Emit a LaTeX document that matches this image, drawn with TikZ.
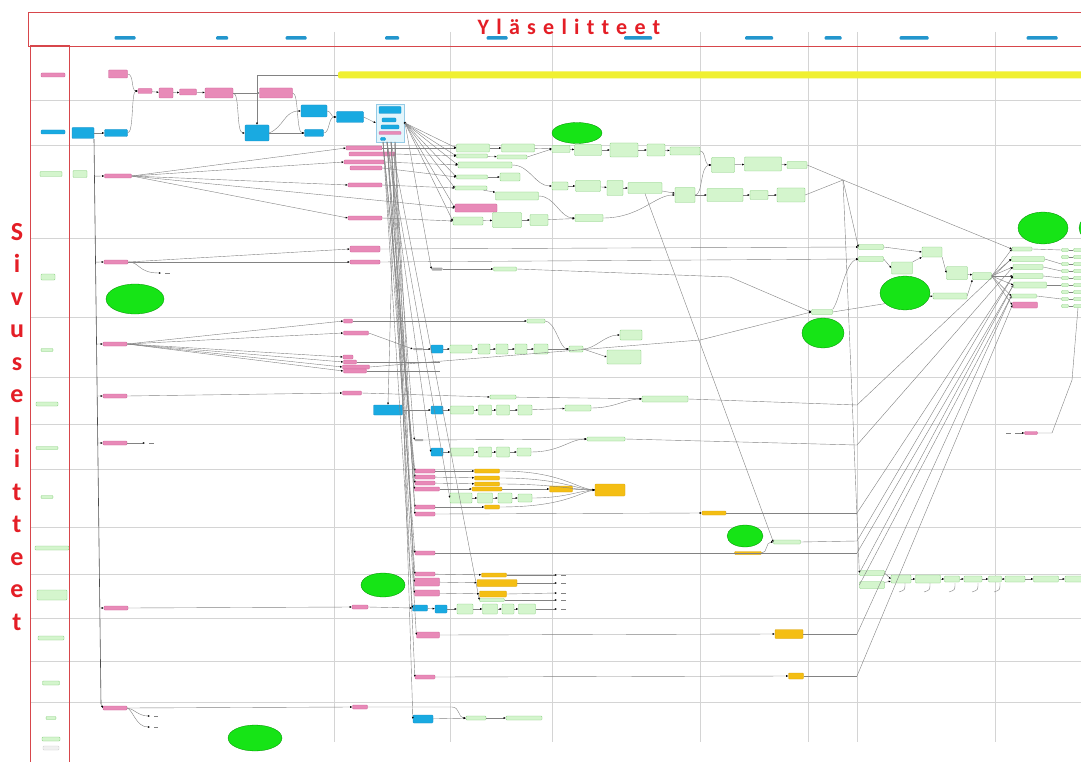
\documentclass[tikz,border=0pt]{standalone}
\usepackage{fontspec}
\newfontfamily\headfont{Carlito}[Ligatures={NoCommon,NoRequired,NoContextual}]
\usetikzlibrary{shapes.geometric,arrows.meta,calc}

\definecolor{pinkfill}{RGB}{232,138,184}
\definecolor{pinkline}{RGB}{205,95,150}
\definecolor{bluefill}{RGB}{25,170,225}
\definecolor{blueline}{RGB}{20,140,200}
\definecolor{greenfill}{RGB}{212,245,205}
\definecolor{greenline}{RGB}{130,205,120}
\definecolor{orangefill}{RGB}{244,190,20}
\definecolor{orangeline}{RGB}{215,160,10}
\definecolor{ovalgreen}{RGB}{22,228,22}
\definecolor{baryellow}{RGB}{240,240,50}
\definecolor{hdrblue}{RGB}{35,150,205}
\definecolor{lanegray}{RGB}{212,212,212}
\definecolor{wiregray}{RGB}{130,130,130}
\definecolor{framered}{RGB}{215,70,75}
\definecolor{titlered}{RGB}{228,30,38}

\tikzset{
  box/.style={draw, rounded corners=0.8pt, inner sep=0pt, line width=0.3pt},
  pk/.style 2 args={box, fill=pinkfill, draw=pinkline, minimum width=#1pt, minimum height=#2pt},
  bl/.style 2 args={box, fill=bluefill, draw=blueline, minimum width=#1pt, minimum height=#2pt},
  gr/.style 2 args={box, fill=greenfill, draw=greenline, minimum width=#1pt, minimum height=#2pt},
  og/.style 2 args={box, fill=orangefill, draw=orangeline, minimum width=#1pt, minimum height=#2pt},
  dk/.style 2 args={box, fill=gray!65, draw=none, minimum width=#1pt, minimum height=#2pt},
  oval/.style 2 args={ellipse, fill=ovalgreen, draw=green!55!black, line width=0.3pt, inner sep=0pt, minimum width=#1pt, minimum height=#2pt},
  hdr/.style={fill=hdrblue, rounded corners=1pt, inner sep=0pt, minimum height=3.5pt, minimum width=#1pt},
  lane/.style={draw=lanegray, line width=0.7pt},
  link/.style={draw=wiregray, line width=0.4pt},
  wire/.style={link, -{Latex[length=2.2pt,width=2pt,black]}},
  frame/.style={draw=framered, line width=1pt},
}

\begin{document}
\begin{tikzpicture}[x=1pt,y=-1pt]
\useasboundingbox (0,0) rectangle (1081,762);
\fill[white] (0,0) rectangle (1081,762);

% swimlane grid
\foreach \yy in {100,145,238,317,377,424,469,527,574,618,661,702}
  \draw[lane] (30,\yy) -- (1081,\yy);
\foreach \xx in {334,450,552,700,808,857,995}
  \draw[lane] (\xx,32) -- (\xx,742);

% column header bars
\foreach \xx/\ww [count=\i] in {125/21,222/12,296/21,392/14,497/21,638/28,759/28,833/17,914/29,1042/31}
  \node[hdr=\ww] (hd\i) at (\xx,38) {};

% timeline bar
\node[fill=baryellow, inner sep=0pt, minimum height=7pt, minimum width=760pt, rounded corners=2pt] (ybar) at (718,75) {};

% row labels in the side column
\node[pk={24}{4}] (p0) at (53,75) {};
\node[bl={24}{4}] (b0) at (53,132) {};
\foreach \xx/\yy/\ww/\hh [count=\i] in {51/174/22/5,80/174/14/7,48/277/14/6,47/350/12/3,47/404/22/4,47/448/22/3,47/497/12/3,52/548/34/4,52/595/30/10,51/638/26/4,51/683/17/4,51/718/10/3,51/739/18/4}
  \node[gr={\ww}{\hh}] (lab\i) at (\xx,\yy) {};
\node[box, fill=gray!12, draw=gray!40, minimum width=16pt, minimum height=4pt] (lab14) at (51,748) {};

% top chain
\node[pk={19}{8}] (t1) at (118,74) {};
\node[pk={14}{5}] (t2) at (145,91) {};
\node[pk={14}{10}] (t3) at (166,93) {};
\node[pk={17}{6}] (t4) at (188,92) {};
\node[pk={28}{10}] (t5) at (219,93) {};
\node[pk={33}{10}] (t6) at (276,93) {};
\node[bl={22}{11}] (c1) at (83,133) {};
\node[bl={23}{7}] (c2) at (116,133) {};
\node[bl={24}{16}] (c3) at (257,133) {};
\node[bl={26}{12}] (c4) at (314,111) {};
\node[bl={19}{7}] (c5) at (314,133) {};
\node[bl={27}{11}] (c6) at (350,117) {};
\node[draw=blueline!45, fill=bluefill!12, line width=0.3pt, inner sep=0pt, minimum width=28pt, minimum height=38pt] (ct) at (390,123) {};
\node[bl={22}{7}] (ct1) at (390,110) {};
\node[bl={14}{4}] (ct2) at (389,120) {};
\node[bl={18}{4}] (ct3) at (390,127) {};
\node[pk={22}{3}] (ct4) at (390,133) {};
\node[bl={5}{3}] (ct5) at (383,139) {};
\coordinate (hub) at (405,123);
\fill (hub) circle (1.4);

\draw[wire] (t1.east) .. controls (134,74) and (131,91) .. (t2.west);
\draw[wire] (c2.east) .. controls (134,133) and (131,91) .. (t2.west);
\foreach \p/\q in {t2/t3,t3/t4,t4/t5,t5/t6,c1/c2} \draw[wire] (\p) -- (\q);
\draw[wire] (t5.east) .. controls (240,93) and (236,133) .. (c3.west);
\draw[wire] (t6.east) .. controls (299,93) and (296,133) .. (c5.west);
\draw[wire] (ybar.west) -| (c3.north);
\draw[wire] (c3.east) .. controls (284,127) and (284,111) .. (c4.west);
\draw[wire] (c3.east) -- (c5.west);
\draw[wire] (c5.east) .. controls (330,133) and (328,117) .. (c6.west);
\draw[wire] (c4.east) .. controls (331,111) and (331,117) .. (c6.west);
\draw[wire] (c6.east) -- (ct.west);

% left trunk with its branches
\node[pk={27}{4}] (L1) at (118,176) {};
\node[pk={24}{4}] (L2) at (116,262) {};
\node[pk={24}{4}] (L3) at (115,344) {};
\node[pk={24}{4}] (L4) at (115,396) {};
\node[pk={24}{4}] (L5) at (115,443) {};
\node[pk={24}{4}] (L6) at (116,608) {};
\node[pk={24}{4}] (L7) at (115,708) {};
\coordinate (tk0) at (94,139);
\coordinate (tk7) at (101,704);
\draw[link, line width=0.6pt, draw=gray!60!black] (tk0) -- (tk7);
\foreach \n in {L1,L2,L3,L4,L5,L6} \draw[wire] ($(tk0)!(\n.west)!(tk7)$) -- (\n.west);
\draw[wire] (tk7) -- (L7.west);
\draw[wire] (L2.east) .. controls (140,262) and (138,273) .. (161,273);
\draw[link] (165,273) -- (170,273);
\draw[wire] (L5.east) -- (145,443);
\draw[link] (149,443) -- (154,443);
\draw[wire] (L7.east) .. controls (133,708) and (138,716) .. (150,716);
\draw[wire] (L7.east) .. controls (133,710) and (136,727) .. (150,727);
\draw[link] (154,716) -- (158,716);
\draw[link] (154,727) -- (158,727);

% pink column beside the first vertical line
\node[pk={36}{4}] (m1) at (364,148) {};
\node[pk={46}{4}] (m2) at (372,154) {};
\node[pk={40}{4}] (m3) at (364,162) {};
\node[pk={32}{4}] (m4) at (366,168) {};
\node[pk={34}{4}] (m5) at (365,185) {};
\node[pk={34}{4}] (m6) at (365,218) {};
\node[pk={30}{6}] (m7) at (365,249) {};
\node[pk={30}{4}] (m8) at (365,262) {};
\node[pk={9}{4}] (m9) at (348,321) {};
\node[pk={25}{4}] (m10) at (356,333) {};
\node[pk={10}{4}] (m11) at (348,357) {};
\node[pk={13}{4}] (m12) at (350,362) {};
\node[pk={27}{4}] (m13) at (356,367) {};
\node[pk={23}{4}] (m14) at (355,371) {};
\node[pk={19}{4}] (m15) at (352,393) {};
\node[pk={16}{4}] (m16) at (360,607) {};
\node[pk={15}{4}] (m17) at (360,707) {};

\foreach \n in {m1,m3,m5,m6} \draw[wire] (L1.east) -- (\n.west);
\foreach \n in {m7,m8} \draw[wire] (L2.east) -- (\n.west);
\foreach \n in {m9,m10,m11,m12,m13,m14} \draw[wire] (L3.east) -- (\n.west);
\draw[wire] (L4.east) -- (m15.west);
\draw[wire] (L6.east) -- (m16.west);
\draw[wire] (L7.east) -- (m17.west);

% upper green process cluster
\node[gr={33}{8}] (a1) at (473,148) {};
\node[gr={33}{8}] (a2) at (518,148) {};
\node[gr={18}{7}] (a3) at (561,149) {};
\node[gr={27}{11}] (a4) at (588,150) {};
\node[gr={28}{14}] (a5) at (624,150) {};
\node[gr={18}{12}] (a6) at (656,150) {};
\node[gr={30}{8}] (a7) at (685,151) {};
\node[gr={31}{4}] (b1) at (472,156) {};
\node[gr={30}{4}] (b2) at (512,157) {};
\node[gr={54}{6}] (cc1) at (485,165) {};
\node[gr={31}{4}] (d1) at (472,177) {};
\node[gr={20}{8}] (d2) at (510,177) {};
\node[gr={32}{4}] (e1) at (471,188) {};
\node[gr={43}{8}] (e2) at (517,196) {};
\node[gr={16}{8}] (f1) at (560,186) {};
\node[gr={25}{11}] (f2) at (588,186) {};
\node[gr={16}{15}] (f3) at (615,188) {};
\node[gr={34}{11}] (f4) at (645,188) {};
\node[gr={20}{15}] (f5) at (685,195) {};
\node[pk={42}{8}] (g1) at (476,208) {};
\node[gr={30}{8}] (h1) at (468,221) {};
\node[gr={29}{15}] (h2) at (507,220) {};
\node[gr={18}{11}] (h3) at (539,220) {};
\node[gr={28}{7}] (h4) at (589,218) {};
\node[gr={23}{15}] (j1) at (723,165) {};
\node[gr={37}{14}] (j2) at (763,164) {};
\node[gr={20}{7}] (j3) at (797,165) {};
\node[gr={36}{13}] (k1) at (725,195) {};
\node[gr={18}{9}] (k2) at (759,195) {};
\node[gr={28}{14}] (k3) at (791,195) {};
\coordinate (jn) at (843,180);

\foreach \n in {a1,b1,cc1,d1,e1,g1,h1} \draw[wire] (hub) -- (\n.west);
\draw[wire] (m1.east) -- (a1.west);
\draw[wire] (m2.east) -- (b1.west);
\draw[wire] (m3.east) -- (cc1.west);
\draw[wire] (m4.east) -- (d1.west);
\draw[wire] (m5.east) -- (e1.west);
\draw[wire] (m6.east) -- (h1.west);
\draw[wire] (L1.east) -- (g1.west);
\foreach \p/\q in {a1/a2,a2/a3,a3/a4,a4/a5,a5/a6,a6/a7,b1/b2,d1/d2,e1/e2,f1/f2,f2/f3,f3/f4,f4/f5,h1/h2,h2/h3,h3/h4,j1/j2,j2/j3,k1/k2,k2/k3}
  \draw[wire] (\p) -- (\q);
\draw[wire] (b2.east) -- (a3.west);
\draw[wire] (cc1.east) .. controls (530,165) and (535,186) .. (f1.west);
\draw[wire] (e2.east) .. controls (555,196) and (560,218) .. (h4.west);
\draw[wire] (a7.east) .. controls (706,151) and (704,165) .. (j1.west);
\draw[wire] (f5.east) .. controls (703,195) and (700,165) .. (j1.west);
\draw[wire] (f5.east) -- (k1.west);
\draw[wire] (h4.east) .. controls (640,218) and (655,195) .. (f5.west);
\draw[link] (j3.east) -- (jn);
\draw[link] (k3.east) -- (jn);

% right cluster
\node[gr={25}{5}] (n1) at (871,247) {};
\node[gr={25}{5}] (n2) at (871,259) {};
\node[gr={21}{12}] (n3) at (902,268) {};
\node[gr={20}{10}] (n4) at (932,252) {};
\node[gr={21}{13}] (n5) at (957,273) {};
\node[gr={19}{7}] (n6) at (982,276) {};
\node[gr={34}{6}] (n7) at (950,296) {};
\node[gr={20}{4}] (r1) at (1022,249) {};
\node[gr={33}{5}] (r2) at (1028,259) {};
\node[gr={30}{5}] (r3) at (1028,267) {};
\node[gr={30}{5}] (r4) at (1028,276) {};
\node[gr={33}{6}] (r5) at (1030,285) {};
\node[gr={25}{4}] (r6) at (1024,296) {};
\node[pk={25}{6}] (rp) at (1025,305) {};
\foreach \i in {1,...,9} {
  \node[gr={7}{3}] (fa\i) at (1065,243+7*\i) {};
  \node[gr={9}{3}] (fb\i) at (1078,243+7*\i) {};
}
\node[gr={21}{5}] (sx) at (822,312) {};

\draw[wire] (jn) -- (r1.west);
\draw[wire] (jn) -- (n1.west);
\draw[wire] (m7.east) -- (n1.west);
\draw[wire] (m8.east) -- (n2.west);
\draw[wire] (n1.east) -- (n4.west);
\draw[wire] (n2.east) -- (n3.west);
\draw[wire] (n3.north east) -- (n4.south west);
\draw[wire] (n4.south east) -- (n5.west);
\draw[wire] (n5) -- (n6);
\draw[wire] (n7.east) -- (n6.south west);
\foreach \n in {r1,r2,r3,r4,r5,r6,rp} \draw[wire] (n6.east) -- (\n.west);
\foreach \n/\i in {r1/1,r2/3,r3/4,r4/5,r5/6,r6/8} \draw[link] (\n.east) -- (fa\i.west);
\foreach \i in {1,...,9} \draw[link] (fa\i.east) -- (fb\i.west);
\draw[wire] (sx.east) -- (n7.west);
\draw[wire] (sx.north east) .. controls (840,300) and (845,262) .. (n2.west);

% mid rows
\node[dk={11}{3}] (dk1) at (437,269) {};
\node[gr={23}{4}] (gg1) at (505,269) {};
\node[gr={18}{4}] (gg2) at (536,321) {};
\node[dk={10}{2}] (dk2) at (418,349) {};
\node[bl={12}{8}] (bb4) at (437,349) {};
\node[gr={22}{8}] (u1) at (461,349) {};
\node[gr={12}{10}] (u2) at (484,349) {};
\node[gr={12}{10}] (u3) at (502,349) {};
\node[gr={12}{10}] (u4) at (521,349) {};
\node[gr={14}{10}] (u5) at (541,349) {};
\node[gr={14}{6}] (u6) at (576,349) {};
\node[gr={22}{10}] (u7) at (631,335) {};
\node[gr={34}{14}] (u8) at (624,357) {};

\draw[wire] (hub) -- (dk1.west);
\draw[wire] (dk1) -- (gg1);
\draw[wire] (gg1.east) -- (730,277) -- (sx.west);
\draw[wire] (m9.east) -- (gg2.west);
\draw[wire] (gg2.east) .. controls (555,321) and (560,349) .. (u6.west);
\draw[wire] (m10.east) -- (dk2.west);
\foreach \p/\q in {dk2/bb4,bb4/u1,u1/u2,u2/u3,u3/u4,u4/u5,u5/u6} \draw[wire] (\p) -- (\q);
\draw[wire] (u6.east) .. controls (595,349) and (605,335) .. (u7.west);
\draw[wire] (u6.east) -- (u8.west);
\draw[wire] (m13.east) -- (700,340) -- (sx.west);
\draw[link] (m12.east) -- (440,362);
\draw[link] (m14.east) -- (440,371);

\node[gr={26}{4}] (gg3) at (503,397) {};
\node[gr={46}{6}] (gg4) at (665,399) {};
\node[bl={29}{10}] (bb1) at (388,410) {};
\node[bl={12}{8}] (bb2) at (437,410) {};
\node[gr={23}{8}] (ra) at (462,410) {};
\node[gr={13}{10}] (rb) at (485,410) {};
\node[gr={13}{10}] (rc) at (503,410) {};
\node[gr={14}{10}] (rd) at (525,410) {};
\node[gr={26}{6}] (re) at (578,408) {};
\draw[wire] (m15.east) -- (gg3.west);
\draw[wire] (gg3) -- (gg4);
\foreach \p/\q in {bb1/bb2,bb2/ra,ra/rb,rb/rc,rc/rd,rd/re} \draw[wire] (\p) -- (\q);
\draw[wire] (re.east) .. controls (615,408) and (625,399) .. (gg4.west);

\node[dk={9}{2}] (dk3) at (419,440) {};
\node[gr={38}{4}] (gg5) at (606,439) {};
\node[bl={12}{8}] (bb3) at (437,452) {};
\node[gr={23}{8}] (sa) at (462,452) {};
\node[gr={13}{10}] (sb) at (485,452) {};
\node[gr={13}{10}] (sc) at (503,452) {};
\node[gr={14}{8}] (sd) at (524,452) {};
\draw[wire] (dk3) -- (gg5);
\foreach \p/\q in {bb3/sa,sa/sb,sb/sc,sc/sd} \draw[wire] (\p) -- (\q);
\draw[wire] (sd.east) .. controls (560,452) and (570,439) .. (gg5.west);

% lower pink / orange block
\node[pk={20}{4}] (q1) at (425,471) {};
\node[pk={20}{4}] (q2) at (425,477) {};
\node[pk={20}{4}] (q3) at (425,483) {};
\node[pk={25}{4}] (q4) at (427,489) {};
\node[pk={20}{4}] (q5) at (425,507) {};
\node[pk={20}{4}] (q6) at (425,514) {};
\node[pk={20}{4}] (q7) at (425,553) {};
\node[pk={20}{4}] (q8) at (425,574) {};
\node[pk={25}{8}] (q9) at (427,582) {};
\node[pk={25}{6}] (q10) at (427,593) {};
\node[bl={15}{6}] (bb5) at (420,608) {};
\node[bl={12}{8}] (bb6) at (441,609) {};
\node[pk={23}{6}] (q11) at (428,635) {};
\node[pk={20}{4}] (q12) at (425,677) {};
\node[bl={20}{8}] (bb7) at (423,719) {};

\node[og={25}{4}] (o1) at (487,471) {};
\node[og={25}{4}] (o2) at (487,478) {};
\node[og={25}{4}] (o3) at (487,484) {};
\node[og={30}{4}] (o4) at (487,489) {};
\node[og={15}{4}] (o5) at (492,507) {};
\node[og={23}{6}] (o6) at (561,489) {};
\node[og={30}{12}] (o7) at (610,490) {};
\node[og={24}{4}] (o8) at (714,513) {};
\node[og={27}{3}] (o9) at (748,553) {};
\node[og={28}{9}] (o10) at (789,634) {};
\node[og={15}{6}] (o11) at (796,676) {};
\node[og={25}{4}] (o12) at (494,575) {};
\node[og={40}{7}] (o13) at (497,583) {};
\node[og={27}{6}] (o14) at (493,594) {};

\node[gr={22}{10}] (w1) at (461,498) {};
\node[gr={15}{10}] (w2) at (485,498) {};
\node[gr={14}{10}] (w3) at (505,498) {};
\node[gr={14}{8}] (w4) at (525,498) {};
\node[gr={25}{3}] (gg6) at (492,600) {};
\node[gr={16}{10}] (x1) at (465,609) {};
\node[gr={15}{10}] (x2) at (490,609) {};
\node[gr={12}{10}] (x3) at (508,609) {};
\node[gr={17}{10}] (x4) at (527,609) {};
\node[gr={20}{4}] (gg7) at (476,718) {};
\node[gr={36}{4}] (gg8) at (524,718) {};
\node[gr={27}{4}] (gg9) at (787,542) {};

% bundle from the grouped box down to the lower rows
\coordinate (cb1) at (383,142);
\coordinate (cb2) at (387,142);
\coordinate (cb3) at (391,142);
\coordinate (cb4) at (395,142);
\foreach \c/\n in {cb1/q1,cb1/q2,cb2/q3,cb2/q4,cb3/q5,cb4/q6,cb1/q7,cb2/q8,cb3/q9,cb4/q10,cb1/bb5,cb2/q11,cb3/q12,cb4/bb7,cb2/w1,cb3/gg6,cb3/dk3,cb2/bb3}
  \draw[wire] (\c) -- (\n.west);
\draw[wire] (cb4) -- (bb1.north);

\foreach \p/\q in {q1/o1,q2/o2,q3/o3,q4/o4,q5/o5,o4/o6,w1/w2,w2/w3,w3/w4,q8/o12,q9/o13,q10/o14,bb5/bb6,bb6/x1,x1/x2,x2/x3,x3/x4,bb7/gg7,gg7/gg8}
  \draw[wire] (\p) -- (\q);
\draw[wire] (m16.east) -- (bb5.west);
\draw[wire] (o1.east) .. controls (560,471) and (575,488) .. (o7.west);
\draw[wire] (o2.east) .. controls (560,478) and (575,489) .. (o7.west);
\draw[wire] (o3.east) .. controls (555,484) and (575,490) .. (o7.west);
\draw[wire] (o6) -- (o7);
\draw[wire] (w4.east) .. controls (565,498) and (578,491) .. (o7.west);
\draw[wire] (o5.east) .. controls (565,507) and (580,492) .. (o7.west);
\draw[wire] (q6.east) -- (o8.west);
\draw[wire] (q11.east) -- (o10.west);
\draw[wire] (q12.east) -- (o11.west);
\draw[wire] (m17.east) -- (452,707) .. controls (460,707) and (458,718) .. (gg7.west);
\foreach \n/\yy in {o12/575,o13/583,o14/593,gg6/600,x4/609} {
  \draw[wire] (\n.east) -- (557,\yy);
  \draw[link] (561,\yy) -- (566,\yy);
}
\draw[wire] (o9.east) .. controls (768,553) and (765,542) .. (gg9.west);
\draw[wire] (f4.south) -- (gg9.west);

% lower right chain
\node[gr={25}{5}] (y1) at (872,573) {};
\node[gr={25}{7}] (y2) at (872,585) {};
\node[gr={20}{8}] (z1) at (901,579) {};
\node[gr={25}{8}] (z2) at (928,579) {};
\node[gr={15}{6}] (z3) at (952,579) {};
\node[gr={18}{6}] (z4) at (973,579) {};
\node[gr={13}{6}] (z5) at (995,579) {};
\node[gr={20}{6}] (z6) at (1015,579) {};
\node[gr={25}{6}] (z7) at (1046,579) {};
\node[gr={20}{6}] (z8) at (1075,579) {};
\draw[wire] (jn) -- (y1.west);
\draw[wire] (y1.east) -- (z1.west);
\foreach \p/\q in {y2/z1,z1/z2,z2/z3,z3/z4,z4/z5,z5/z6,z6/z7,z7/z8} \draw[wire] (\p) -- (\q);
\foreach \xx in {905,930,955,978,1000} \draw[link] (\xx,583) .. controls (\xx,590) .. (\xx-6,592);

% long feeds into the right list
\coordinate (v1) at (857,405);
\coordinate (v2) at (857,445);
\coordinate (v3) at (857,513);
\coordinate (v4) at (857,541);
\coordinate (v7) at (857,553);
\coordinate (v5) at (857,634);
\coordinate (v6) at (857,676);
\draw[link] (gg4.east) -- (v1);
\draw[link] (gg5.east) -- (v2);
\draw[link] (o8.east) -- (v3);
\draw[link] (gg9.east) -- (v4);
\draw[link] (q7.east) -- (v7);
\draw[link] (o10.east) -- (v5);
\draw[link] (o11.east) -- (v6);
\foreach \v/\n in {v1/r2,v2/r3,v3/r4,v4/r4,v7/r5,v5/r6,v6/rp} \draw[wire] (\v) -- (\n.west);
\draw[link] (y1.west) -- (r5.west);
\draw[link] (y2.west) -- (r6.west);

% isolated item on the right
\node[pk={13}{3}] (pr) at (1031,433) {};
\draw[link] (1006,433) -- (1011,433);
\draw[wire] (1015,433) -- (pr.west);
\draw[link] (pr.east) -- (1052,433) -- (1072,380) -- (fb9.south);

% green annotation ovals
\node[oval={58}{30}] (E1) at (135,299) {};
\node[oval={50}{21}] (E2) at (577,133) {};
\node[oval={50}{32}] (E3) at (1043,228) {};
\node[oval={30}{26}] (E4) at (1094,228) {};
\node[oval={50}{34}] (E5) at (905,293) {};
\node[oval={42}{30}] (E6) at (823,333) {};
\node[oval={36}{22}] (E7) at (745,536) {};
\node[oval={44}{24}] (E8) at (383,585) {};
\node[oval={54}{26}] (E9) at (255,738) {};

% legend frames and titles
\draw[frame] (1095,13) -- (28,13) -- (28,47) -- (1095,47);
\draw[frame] (30,46) rectangle (69,775);
\node[font=\headfont\bfseries\fontsize{22}{22}\selectfont\addfontfeature{LetterSpace=33}, text=titlered, inner sep=0pt] (title) at (569,27) {Yläselitteet};
\node[font=\headfont\bfseries\fontsize{26}{32.5}\selectfont, text=titlered, align=center, inner sep=0pt] (side) at (17,427) {S\\i\\v\\u\\s\\e\\l\\i\\t\\t\\e\\e\\t};
\end{tikzpicture}
\end{document}
